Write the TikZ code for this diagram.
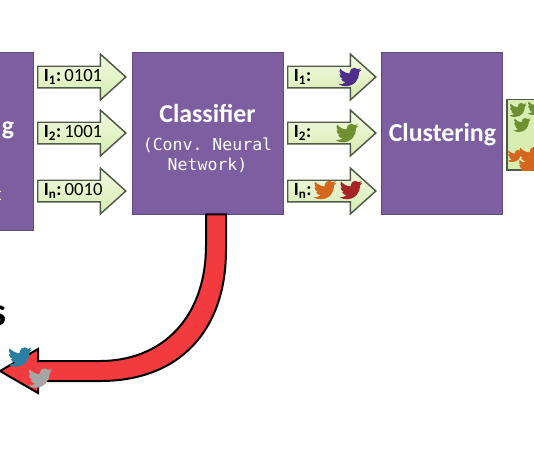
\documentclass[tikz,border=0pt]{standalone}
\usepackage{fontspec}
\setmainfont{Carlito}
\setmonofont{DejaVu Sans Mono}
\usetikzlibrary{arrows.meta,positioning,calc,shapes.arrows}
\definecolor{proc}{HTML}{7D5EA0}
\definecolor{procdark}{HTML}{5F4A80}
\definecolor{paletop}{HTML}{F1F9E0}
\definecolor{palebot}{HTML}{D8EDB2}
\definecolor{paledark}{HTML}{4F5A48}
\definecolor{redarr}{HTML}{F23B3F}
\definecolor{twpurple}{HTML}{4F2F8A}
\definecolor{twgreen}{HTML}{6F8F32}
\definecolor{tworange}{HTML}{D4661E}
\definecolor{twred}{HTML}{A52428}
\definecolor{twblue}{HTML}{2B7FA0}
\definecolor{twgrey}{HTML}{A6A6A6}
\tikzset{
  procbox/.style={draw=procdark,fill=proc,line width=0.7pt,text=white,align=center,inner sep=0pt},
  title/.style={font=\fontsize{19.4}{22}\selectfont\bfseries,text=white},
  monolab/.style={font=\ttfamily\fontsize{12.4}{15}\selectfont,text=white,align=center},
  flowarr/.style={single arrow,single arrow head extend=8pt,single arrow tip angle=84,minimum width=34.5pt,
    draw=paledark,line width=1.1pt,top color=paletop,bottom color=palebot,anchor=tail,inner xsep=4pt,inner ysep=0pt,
    text width=48pt,text height=10pt,text depth=3pt,font=\fontsize{14}{16}\selectfont,align=left},
  bird/.pic={
    \fill[pic actions,shift={(-12,-12)}] (23.95,4.57) -- (21.13,5.35) -- (23.29,2.62)
      .. controls (22.34,3.18) and (21.29,3.58) .. (20.16,3.80)
      .. controls (19.26,2.85) and (18,2.25) .. (16.57,2.25)
      .. controls (13.85,2.25) and (11.65,4.45) .. (11.65,7.17)
      .. controls (11.65,7.55) and (11.69,7.92) .. (11.78,8.28)
      .. controls (7.69,8.1) and (4.07,6.13) .. (1.64,3.16)
      .. controls (1.22,3.89) and (.97,4.74) .. (.97,5.64)
      .. controls (.97,7.35) and (1.84,8.85) .. (3.16,9.73)
      .. controls (2.35,9.71) and (1.58,9.48) .. (.93,9.12)
      -- (.93,9.18)
      .. controls (.93,11.56) and (2.63,13.55) .. (4.88,14)
      .. controls (4.16,14.2) and (3.4,14.23) .. (2.67,14.09)
      .. controls (3.29,16.04) and (5.09,17.46) .. (7.27,17.51)
      .. controls (5.57,18.84) and (3.45,19.61) .. (1.17,19.61)
      .. controls (.78,19.61) and (.39,19.59) .. (0,19.54)
      .. controls (2.18,20.94) and (4.77,21.75) .. (7.56,21.75)
      .. controls (16.61,21.75) and (21.56,14.26) .. (21.56,7.77)
      .. controls (21.56,7.56) and (21.56,7.35) .. (21.54,7.14)
      .. controls (22.5,6.45) and (23.33,5.6) .. (23.95,4.57) -- cycle;
  },
}
\begin{document}
\begin{tikzpicture}[x=0.75pt,y=-0.75pt]
\useasboundingbox (0,0) rectangle (534,462);
\node[procbox,minimum width=113.25pt,minimum height=121.5pt] (classifier) at (207.5,133) {};
\node[procbox,right=73.5pt of classifier,minimum width=90.75pt,minimum height=121.5pt] (clustering) {};
\node[procbox,minimum width=45pt,minimum height=133.5pt] (preproc) at (3,141) {};
\node[title,anchor=east,inner sep=0pt] (gfrag) at (14.5,130) {g};
\node[monolab,anchor=east,inner sep=0pt] (tfrag) at (3,195) {t};
\node[title,text=black,font=\fontsize{30}{32}\selectfont\bfseries] (sfrag) at (-2,316) {s};
\node[title] (cltitle) at (207.5,113) {Classifier};
\node[monolab] (clnote) at (207.5,155) {(Conv. Neural\\Network)};
\node[title] at ($(clustering.center)+(0,2)$) (cutitle) {Clustering};
% red return arrow
\coordinate (redtip) at (0,371);
\fill[redarr,draw=black,line width=1.5pt,line join=miter] ($(classifier.south)+(-1.5,0)$) -- (206,245)
  .. controls (206,320) and (160,361) .. (100,361) -- (38,361) -- (38,349) -- (redtip) -- (38,393) -- (38,381) -- (100,381)
  .. controls (180,381) and (226,330) .. (226,250) -- ($(classifier.south)+(18.5,0)$) -- cycle;
\foreach \nm/\ypos/\txt in {a1/77/{\textbf{I\textsubscript{1}:}\,0101},a2/133/{\textbf{I\textsubscript{2}:}\,1001},a3/191/{\textbf{I\textsubscript{n}:}\,0010}}
  \node[flowarr] (\nm) at (37,\ypos) {\mbox{\txt}};
\foreach \nm/\ypos/\txt in {b1/77/{\textbf{I\textsubscript{1}:}},b2/133/{\textbf{I\textsubscript{2}:}},b3/191/{\textbf{I\textsubscript{n}:}}}
  \node[flowarr] (\nm) at (287,\ypos) {\mbox{\txt}};
\pic[fill=twpurple,scale=0.95] at (350,77) {bird};
\pic[fill=twgreen,scale=0.95] at (347,133) {bird};
\pic[fill=tworange,scale=0.95] at (325,190) {bird};
\pic[fill=twred,scale=0.95] at (351,190) {bird};
\pic[fill=twblue] at (20,357) {bird};
\pic[fill=twgrey] at (40,378) {bird};
% cluster preview
\node[draw=paledark,fill=palebot,line width=1pt,minimum width=30pt,minimum height=53pt,inner sep=0pt] (preview) at (527,134.5) {};
\begin{scope}
\clip (preview.south west) rectangle (preview.north east);
\foreach \xpos/\ypos in {518/110,522/125,536/108}
  \pic[fill=twgreen,scale=0.72] at (\xpos,\ypos) {bird};
\foreach \xpos/\scl in {515/0.62,530/0.95}
  \pic[fill=tworange,scale=\scl] at (\xpos,156) {bird};
\pic[fill=tworange,scale=0.8] at (528,167) {bird};
\end{scope}
\end{tikzpicture}
\end{document}
